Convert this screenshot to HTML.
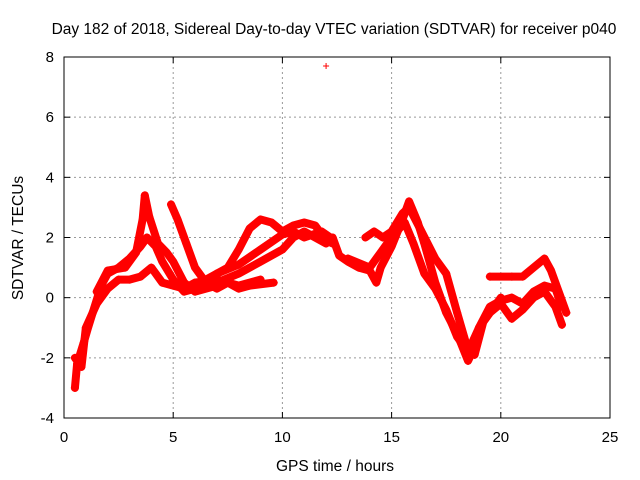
<!DOCTYPE html>
<html><head><meta charset="utf-8"><style>
body{margin:0;background:#fff}
svg{display:block;font-family:"Liberation Sans",sans-serif}
</style></head><body>
<svg id="chart" width="640" height="480">
<text x="334" y="34" font-size="15.5" text-anchor="middle">Day 182 of 2018, Sidereal Day-to-day VTEC variation (SDTVAR) for receiver p040</text>
<text x="335" y="471" font-size="15.5" text-anchor="middle">GPS time / hours</text>
<text transform="translate(23,238) rotate(-90)" font-size="15.5" text-anchor="middle">SDTVAR / TECUs</text>
<g id="grid"></g><g id="ticks"></g><g id="marks"></g>
<rect x="64" y="57" width="546" height="361" fill="none" stroke="#000" stroke-width="1"/>
</svg>
<script>
const xTicks=[0,5,10,15,20,25];
const yTicks=[-4,-2,0,2,4,6,8];
const trackA=[[0.5,-3.0],[0.6,-2.2],[0.9,-1.5],[1.1,-1],[1.4,-0.3],[1.7,0.4],[2.0,0.8],[2.5,1.0],[3.0,1.3],[3.5,1.7],[3.8,2.0],[4.2,1.7],[4.5,1.2],[5.0,0.6],[5.5,0.2],[6.0,0.3],[7.0,0.5],[8.0,0.8],[9.0,1.2],[10,1.6],[10.5,2.0],[11,2.2],[11.5,2.0],[12,1.8]];
const trackB=[[0.5,-2.0],[0.8,-2.3],[1.0,-1.0],[1.5,-0.2],[2.0,0.3],[2.5,0.6],[3.0,0.6],[3.5,0.7],[4.0,1.0],[4.5,0.5],[5,0.4],[5.5,0.3],[6,0.5],[7,0.6],[8,0.4],[9,0.6]];
const trackC=[[4.9,3.1],[5.2,2.6],[5.6,1.8],[6.0,1.0],[6.5,0.5],[7.0,0.3],[7.5,0.5],[8.0,0.3],[8.5,0.4],[9.6,0.5]];
const trackD=[[1.5,0.2],[2.0,0.9],[2.8,1.0],[3.3,1.5],[3.6,2.6],[3.7,3.4],[3.9,2.7],[4.3,1.8],[4.7,1.5],[5.0,1.2],[5.5,0.5],[6,0.2],[7,0.4]];
const trackE=[[6.5,0.6],[7.5,1.0],[8.0,1.6],[8.5,2.3],[9.0,2.6],[9.5,2.5],[10,2.2],[10.5,2.4],[11,2.5],[11.5,2.4],[12,1.9],[12.3,1.8]];
const trackF=[[7.0,0.8],[8,1.1],[9,1.6],[10,2.1],[10.5,2.2],[11,2.0],[11.8,2.2],[12.2,2.0]];
const trackG=[[12.3,2.0],[12.6,1.4],[13,1.2],[13.5,1.0],[14,0.9],[14.3,0.5],[14.5,1.0],[15,1.7],[15.5,2.6],[15.8,3.2],[16.2,2.5],[16.5,1.8],[17,0.5],[17.5,-0.5],[18,-1.2],[18.5,-2.1],[18.7,-1.8],[19,-1.0],[19.5,-0.3],[20,-0.1],[20.5,0.0],[21,-0.2],[21.5,0.2],[22,0.4],[22.5,0.3],[22.8,-0.3]];
const trackH=[[13.8,2.0],[14.2,2.2],[14.6,2.0],[15,2.2],[15.5,2.8],[15.8,3.0],[16.3,2.3],[17,1.3],[17.5,0.8],[18,-0.5],[18.4,-1.5],[18.8,-1.9],[19.2,-0.8],[20,0.0]];
const trackI=[[13,1.3],[14,1.0],[14.5,1.5],[15,2.0],[15.6,2.5],[16,1.8],[16.5,0.8],[17,0.3],[17.5,-0.4],[18,-1.3],[18.5,-1.8],[19,-1.0],[19.5,-0.5],[20,-0.2],[20.5,-0.7],[21,-0.4],[21.5,0.0],[22,0.2],[22.5,-0.3],[22.8,-0.9]];
const trackJ=[[19.5,0.7],[20.5,0.7],[21,0.7],[21.5,1.0],[22,1.3],[22.3,0.9],[22.8,-0.1],[23,-0.5]];
const outliers=[[12,7.7]];
const tracks=[trackA,trackB,trackC,trackD,trackE,trackF,trackG,trackH,trackI,trackJ];
const NS='http://www.w3.org/2000/svg';
const X0=64,X1=610,Y0=418,Y1=57,xmin=0,xmax=25,ymin=-4,ymax=8;
function sx(v){return X0+(v-xmin)/(xmax-xmin)*(X1-X0);}
function sy(v){return Y0-(v-ymin)/(ymax-ymin)*(Y0-Y1);}
function mk(t,a,p){const e=document.createElementNS(NS,t);for(const k in a)e.setAttribute(k,a[k]);p.appendChild(e);return e;}
const grid=document.getElementById('grid'),ticks=document.getElementById('ticks'),marks=document.getElementById('marks');
xTicks.forEach(t=>{const x=sx(t);
 if(t>xmin&&t<xmax){const g=mk('line',{x1:x,x2:x,y1:Y1,y2:Y0,stroke:'#999','stroke-dasharray':'2,3'},grid);
 
 }
 mk('line',{x1:x,x2:x,y1:Y0,y2:Y0-6,stroke:'#000'},ticks);
 mk('line',{x1:x,x2:x,y1:Y1,y2:Y1+6,stroke:'#000'},ticks);
 const l=mk('text',{x:x,y:Y0+24,'font-size':15,'text-anchor':'middle'},ticks);l.textContent=t;
 
 });
yTicks.forEach(t=>{const y=sy(t);
 if(t>ymin&&t<ymax){const g=mk('line',{x1:X0,x2:X1,y1:y,y2:y,stroke:'#999','stroke-dasharray':'2,3'},grid);
 
 }
 mk('line',{x1:X0,x2:X0+6,y1:y,y2:y,stroke:'#000'},ticks);
 mk('line',{x1:X1,x2:X1-6,y1:y,y2:y,stroke:'#000'},ticks);
 const l=mk('text',{x:X0-10,y:y+5,'font-size':15,'text-anchor':'end'},ticks);l.textContent=t;
 
 });
tracks.forEach(tr=>{
 const pl=mk('polyline',{points:tr.map(p=>sx(p[0])+','+sy(p[1])).join(' '),fill:'none',stroke:'#f00','stroke-width':8,'stroke-linejoin':'round','stroke-linecap':'round'},marks);
 
 
 tr.forEach(p=>{const x=sx(p[0]),y=sy(p[1]);
  const m=mk('path',{d:`M${x-4},${y}H${x+4}M${x},${y-4}V${y+4}`,stroke:'#f00','stroke-width':1.5},marks);
  
  });
});
outliers.forEach(p=>{const x=sx(p[0]),y=sy(p[1]);
 const m=mk('path',{d:`M${x-3},${y}H${x+3}M${x},${y-3}V${y+3}`,stroke:'#f00','stroke-width':1},marks);
 
 });
</script>
</body></html>
